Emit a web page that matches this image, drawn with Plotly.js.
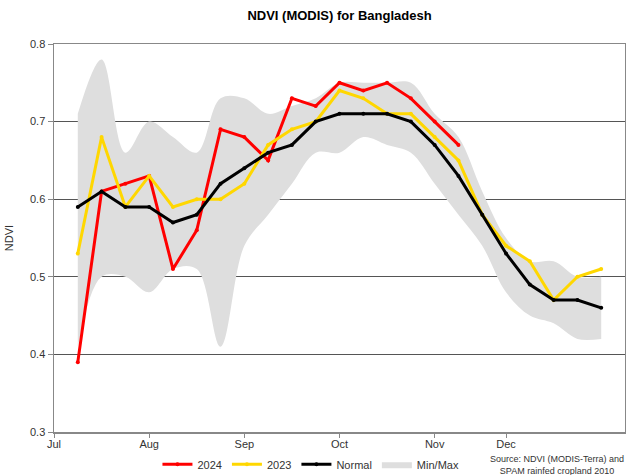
<!DOCTYPE html>
<html>
<head>
<meta charset="utf-8">
<script src="https://cdn.plot.ly/plotly-3.0.1.min.js"></script>
<style>html,body{margin:0;padding:0;background:#fff;}#chart{width:626px;height:475px;}</style>
</head>
<body>
<div id="chart"></div>
<script>
// dekad index positions (1 = first dekad shown)
const dekads = [1,2,3,4,5,6,7,8,9,10,11,12,13,14,15,16,17,18,19,20,21,22,23];
const monthTickPos = [0,4,8,12,16,19];
const monthLabels = ["Jul","Aug","Sep","Oct","Nov","Dec"];

const ndvi2024 = [0.39,0.61,0.62,0.63,0.51,0.56,0.69,0.68,0.65,0.73,0.72,0.75,0.74,0.75,0.73,0.70,0.67];
const ndvi2023 = [0.53,0.68,0.59,0.63,0.59,0.60,0.60,0.62,0.67,0.69,0.70,0.74,0.73,0.71,0.71,0.68,0.65,0.58,0.54,0.52,0.47,0.50,0.51];
const ndviNormal = [0.59,0.61,0.59,0.59,0.57,0.58,0.62,0.64,0.66,0.67,0.70,0.71,0.71,0.71,0.70,0.67,0.63,0.58,0.53,0.49,0.47,0.47,0.46];
const ndviMax = [0.71,0.78,0.66,0.70,0.68,0.66,0.73,0.73,0.71,0.72,0.73,0.75,0.75,0.75,0.75,0.71,0.68,0.61,0.55,0.52,0.52,0.50,0.50];
const ndviMin = [0.41,0.50,0.50,0.48,0.51,0.51,0.41,0.54,0.58,0.62,0.66,0.66,0.68,0.67,0.66,0.62,0.58,0.54,0.48,0.45,0.44,0.42,0.42];

const traces = [
  {x: dekads, y: ndviMin, type:'scatter', mode:'lines', line:{width:0, shape:'spline', color:'#dedede'}, showlegend:false, hoverinfo:'skip'},
  {x: dekads, y: ndviMax, type:'scatter', mode:'lines', name:'Min/Max', fill:'tonexty', fillcolor:'#dedede', line:{width:0, shape:'spline', color:'#dedede'}, legendrank:4},
  {x: dekads.slice(0, ndvi2024.length), y: ndvi2024, type:'scatter', mode:'lines+markers', name:'2024', line:{color:'#ff0000', width:3}, marker:{size:4, color:'#ff0000'}, legendrank:1},
  {x: dekads, y: ndvi2023, type:'scatter', mode:'lines+markers', name:'2023', line:{color:'#ffd700', width:3}, marker:{size:4, color:'#ffd700'}, legendrank:2},
  {x: dekads, y: ndviNormal, type:'scatter', mode:'lines+markers', name:'Normal', line:{color:'#000000', width:3}, marker:{size:4, color:'#000000'}, legendrank:3}
];

const layout = {
  width:626, height:475,
  margin:{l:54, r:1, t:44, b:43, autoexpand:false},
  paper_bgcolor:'#fff', plot_bgcolor:'#fff',
  font:{family:'Liberation Sans, Arial, sans-serif', size:11, color:'#333'},
  title:{text:'<b>NDVI (MODIS) for Bangladesh</b>', x:0.5, xref:'paper', y:0.968, yanchor:'middle', font:{size:13, color:'#000'}},
  xaxis:{range:[0,24], tickvals:monthTickPos, ticktext:monthLabels, showgrid:false, zeroline:false,
         showline:true, linecolor:'#888', linewidth:1.5, mirror:true, ticks:'outside', ticklen:4, tickcolor:'#888',
         ticklabelstandoff:-3, tickfont:{size:11, color:'#333'}},
  yaxis:{range:[0.3,0.8], dtick:0.1, tickformat:'.1f', showgrid:true, gridcolor:'#555', gridwidth:1, zeroline:false,
         showline:true, linecolor:'#888', linewidth:1.5, mirror:true, ticks:'outside', ticklen:5, tickcolor:'#888',
         tickfont:{size:11, color:'#333'}, title:{text:'NDVI', font:{size:11, color:'#333'}, standoff:14}},
  legend:{orientation:'h', x:0.45, xanchor:'center', y:-0.046, yanchor:'top', font:{size:11, color:'#333'}, traceorder:'normal', itemwidth:30},
  annotations:[{xref:'paper', yref:'paper', x:1.0, y:-0.053, xanchor:'right', yanchor:'top', align:'center', showarrow:false, borderpad:0,
    text:'Source: NDVI (MODIS-Terra) and<br>SPAM rainfed cropland 2010', font:{size:9, color:'#333'}}]
};

Plotly.newPlot('chart', traces, layout, {displayModeBar:false, staticPlot:true});
</script>
</body>
</html>
